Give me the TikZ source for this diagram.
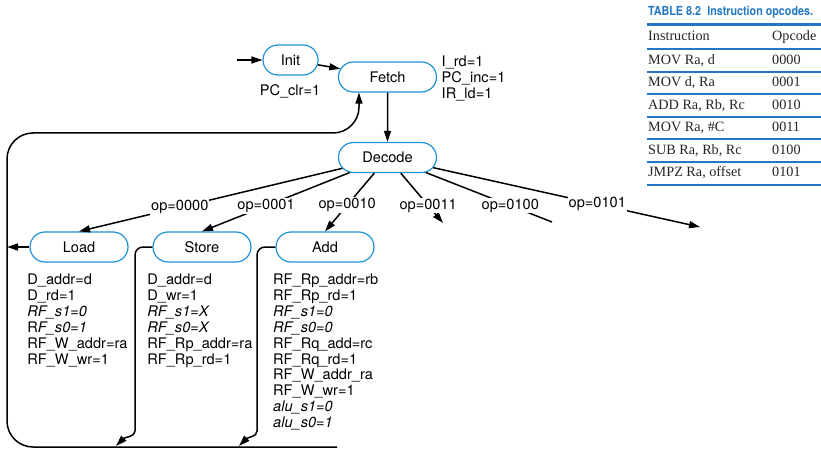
\documentclass[tikz,border=0pt]{standalone}
\usepackage{fontspec}
\setmainfont{TeX Gyre Heros}
\newfontfamily\tabfont{Liberation Serif}
\newfontfamily\tabtitlefont[FakeStretch=0.86]{TeX Gyre Heros}
\usepackage{tikz}
\usetikzlibrary{positioning,arrows.meta,shapes.misc}
\usepackage{xcolor}
\definecolor{stateblue}{RGB}{30,145,215}
\definecolor{tabblue}{RGB}{35,120,195}
\newcommand{\sigsize}{\fontsize{14.6}{15.9}\selectfont}

\begin{document}
\begin{tikzpicture}[x=1pt, y=-1pt,
    state/.style={draw=stateblue, line width=1.2pt, rounded rectangle, fill=white, minimum width=#1, minimum height=30pt, inner sep=0pt, font=\sigsize},
    state/.default={98pt},
    sig/.style={inner sep=0pt, align=left, font=\sigsize},
    lbl/.style={font=\sigsize, fill=white, inner sep=1pt},
    arr/.style={-{Triangle[length=11pt,width=7pt]}, line width=1.5pt, #1},
    arr/.default={black},
    tabtitle/.style={inner sep=0pt, font=\tabtitlefont\bfseries\fontsize{12.5}{14}\selectfont, text=tabblue},
    tabcell/.style={inner sep=0pt, font=\tabfont\fontsize{14.2}{16}\selectfont, text=black!85},
    tabrule/.style={draw=tabblue, line width=#1},
    tabrule/.default={2pt},
]
\useasboundingbox (0,0) rectangle (821,449);

\node[state=55pt] (init) at (290.5,60) {Init};
\node[state] (fetch) at (387.5,77) {Fetch};
\node[state] (decode) at (387.5,157.5) {Decode};
\node[state] (load) at (79,247) {Load};
\node[state] (store) at (202,247) {Store};
\node[state] (add) at (325,247) {Add};

\node[sig, anchor=base] (pcclr) at (290,95.5) {PC\_clr=1};
\node[sig, anchor=north west, font=\fontsize{14.6}{16.3}\selectfont] (fetchout) at (441.5,55.3) {I\_rd=1\\PC\_inc=1\\IR\_ld=1};
\node[sig, anchor=north west] (loadout) at (27.2,273.7) {D\_addr=d\\D\_rd=1\\\textit{RF\_s1=0}\\R\textit{F\_s0=1}\\RF\_W\_addr=ra\\RF\_W\_wr=1};
\node[sig, anchor=north west] (storeout) at (147.2,273.7) {D\_addr=d\\D\_wr=1\\\textit{RF\_s1=X}\\\textit{RF\_s0=X}\\RF\_Rp\_addr=ra\\RF\_Rp\_rd=1};
\node[sig, anchor=north west] (addout) at (273,273.7) {RF\_Rp\_addr=rb\\RF\_Rp\_rd=1\\\textit{RF\_s1=0}\\\textit{RF\_s0=0}\\RF\_Rq\_add=rc\\RF\_Rq\_rd=1\\RF\_W\_addr\_ra\\RF\_W\_wr=1\\\textit{alu\_s1=0}\\\textit{alu\_s0=1}};

\coordinate (start) at (237,60);
\coordinate (end0011) at (443,223);
\coordinate (end0100) at (552,222);
\coordinate (end0101) at (700,227);
\coordinate (loopend) at (337,447);
\coordinate (loopbl) at (7,447);
\coordinate (looptl) at (7,133);
\coordinate (looptr) at (359,133);
\coordinate (storedn) at (135,423);
\coordinate (storeend) at (116,446);
\coordinate (adddn) at (257,423);
\coordinate (addend) at (239,446);

% ===== ARROWS =====
\draw[arr] (start) -- (init);
\draw[arr] (init) -- (fetch);
\draw[arr] (fetch) -- (decode);
\draw[arr] (decode) -- (load.north) node[lbl, pos=0.617] (op0) {op=0000};
\draw[arr] (decode) -- (store.north) node[lbl, pos=0.566] (op1) {op=0001};
\draw[arr] (decode) -- (add.north) node[lbl, pos=0.55] (op2) {op=0010};
\draw[arr] (decode) -- (end0011) node[lbl, pos=0.65] (op3) {op=0011};
\draw[line width=1.5pt] (decode) -- (end0100) node[lbl, pos=0.67] (op4) {op=0100};
\draw[arr] (decode) -- (end0101) node[lbl, pos=0.615] (op5) {op=0101};

\draw[arr] (load.west) -- (load.west -| looptl);
\draw[arr, rounded corners=8pt] (store.west) -| (storedn) .. controls +(0,14) and +(9,-9) .. (storeend);
\draw[arr, rounded corners=8pt] (add.west) -| (adddn) .. controls +(0,14) and +(9,-9) .. (addend);
\draw[arr] (loopend) [rounded corners=26pt] -- (loopbl) -- (looptl) -- (looptr) [rounded corners=4pt] -- (looptr |- fetch.south);

% ===== TABLE =====
\node[tabtitle, anchor=base west] (tabhead) at (648,15.7) {TABLE 8.2\hspace{0.5em}Instruction opcodes.};
\draw[tabrule=3pt] (647,24.5) -- (821,24.5);
\node[tabcell, anchor=base west] (ins0) at (648,41) {Instruction};
\node[tabcell, anchor=base west] (opc0) at (772,41) {Opcode};
\draw[tabrule] (647,49.3) -- (821,49.3);
\node[tabcell, anchor=base west] (ins1) at (648,64.3) {MOV Ra, d};
\node[tabcell, anchor=base west] (opc1) at (772,64.3) {0000};
\draw[tabrule] (647,71.8) -- (821,71.8);
\node[tabcell, anchor=base west] (ins2) at (648,86.8) {MOV d, Ra};
\node[tabcell, anchor=base west] (opc2) at (772,86.8) {0001};
\draw[tabrule] (647,94.3) -- (821,94.3);
\node[tabcell, anchor=base west] (ins3) at (648,109.3) {ADD Ra, Rb, Rc};
\node[tabcell, anchor=base west] (opc3) at (772,109.3) {0010};
\draw[tabrule] (647,116.8) -- (821,116.8);
\node[tabcell, anchor=base west] (ins4) at (648,131.8) {MOV Ra, \#C};
\node[tabcell, anchor=base west] (opc4) at (772,131.8) {0011};
\draw[tabrule] (647,139.5) -- (821,139.5);
\node[tabcell, anchor=base west] (ins5) at (648,154.3) {SUB Ra, Rb, Rc};
\node[tabcell, anchor=base west] (opc5) at (772,154.3) {0100};
\draw[tabrule] (647,162.5) -- (821,162.5);
\node[tabcell, anchor=base west] (ins6) at (648,176.8) {JMPZ Ra, offset};
\node[tabcell, anchor=base west] (opc6) at (772,176.8) {0101};
\draw[tabrule] (647,185.3) -- (821,185.3);

\end{tikzpicture}
\end{document}
